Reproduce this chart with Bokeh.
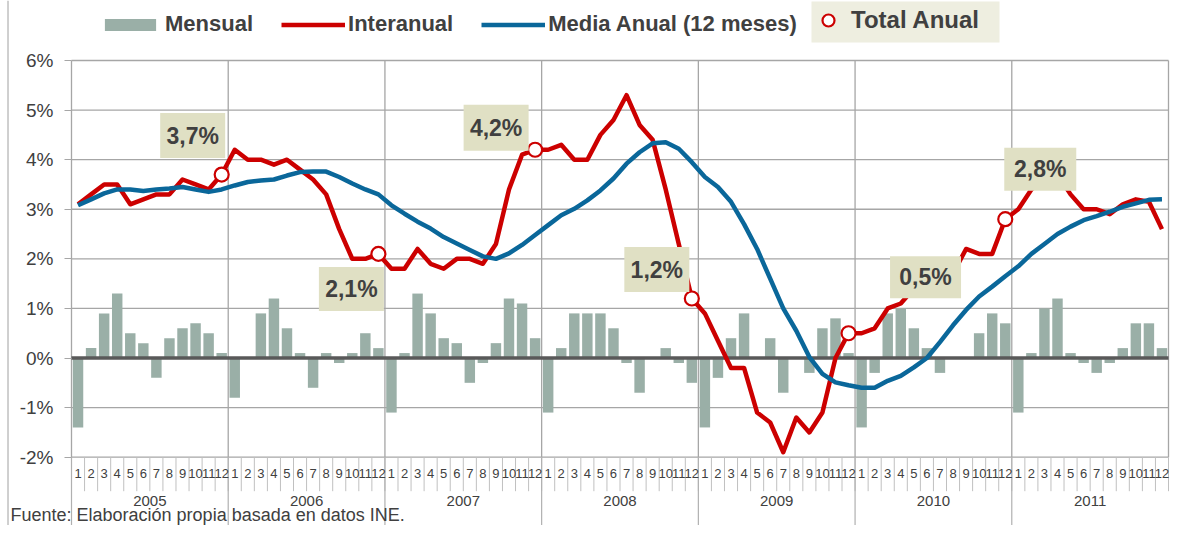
from bokeh.plotting import figure
from bokeh.models import Range1d, FixedTicker, Legend, LegendItem
from bokeh.core.properties import value
from bokeh.embed import file_html
from bokeh.resources import INLINE

# ---------------- data ----------------
YEARS = ["2005", "2006", "2007", "2008", "2009", "2010", "2011"]
MONTHS = ["1", "2", "3", "4", "5", "6", "7", "8", "9", "10", "11", "12"]
Y_TICKS = [-2, -1, 0, 1, 2, 3, 4, 5, 6]

MENSUAL = [
    -1.4, 0.2, 0.9, 1.3, 0.5, 0.3, -0.4, 0.4, 0.6, 0.7, 0.5, 0.1,    # 2005
    -0.8, 0.0, 0.9, 1.2, 0.6, 0.1, -0.6, 0.1, -0.1, 0.1, 0.5, 0.2,   # 2006
    -1.1, 0.1, 1.3, 0.9, 0.4, 0.3, -0.5, -0.1, 0.3, 1.2, 1.1, 0.4,   # 2007
    -1.1, 0.2, 0.9, 0.9, 0.9, 0.6, -0.1, -0.7, 0.0, 0.2, -0.1, -0.5, # 2008
    -1.4, -0.4, 0.4, 0.9, 0.0, 0.4, -0.7, 0.0, -0.3, 0.6, 0.8, 0.1,  # 2009
    -1.4, -0.3, 0.9, 1.0, 0.6, 0.2, -0.3, 0.0, 0.0, 0.5, 0.9, 0.7,   # 2010
    -1.1, 0.1, 1.0, 1.2, 0.1, -0.1, -0.3, -0.1, 0.2, 0.7, 0.7, 0.2,  # 2011
]
INTERANUAL = [
    3.1, 3.3, 3.5, 3.5, 3.1, 3.2, 3.3, 3.3, 3.6, 3.5, 3.4, 3.7,
    4.2, 4.0, 4.0, 3.9, 4.0, 3.8, 3.6, 3.3, 2.6, 2.0, 2.0, 2.1,
    1.8, 1.8, 2.2, 1.9, 1.8, 2.0, 2.0, 1.9, 2.3, 3.4, 4.1, 4.2,
    4.2, 4.3, 4.0, 4.0, 4.5, 4.8, 5.3, 4.7, 4.4, 3.4, 2.3, 1.2,
    0.9, 0.35, -0.2, -0.2, -1.1, -1.3, -1.9, -1.2, -1.5, -1.1, 0.0, 0.5,
    0.5, 0.6, 1.0, 1.1, 1.4, 1.5, 1.6, 1.7, 2.2, 2.1, 2.1, 2.8,
    3.0, 3.4, 3.6, 3.7, 3.3, 3.0, 3.0, 2.9, 3.1, 3.2, 3.15, 2.6,
]
MEDIA_ANUAL = [
    3.08, 3.2, 3.32, 3.4, 3.4, 3.37, 3.4, 3.42, 3.45, 3.4, 3.35, 3.4,
    3.48, 3.55, 3.58, 3.6, 3.68, 3.75, 3.76, 3.76, 3.65, 3.52, 3.4, 3.3,
    3.08, 2.91, 2.75, 2.61, 2.44, 2.31, 2.18, 2.05, 2.0, 2.11, 2.28, 2.48,
    2.68, 2.88, 3.01, 3.18, 3.38, 3.62, 3.92, 4.15, 4.33, 4.35, 4.22, 3.95,
    3.65, 3.45, 3.15, 2.7, 2.2, 1.6, 1.0, 0.55, 0.02, -0.32, -0.49, -0.55,
    -0.6, -0.6, -0.46, -0.36, -0.19, 0.0, 0.32, 0.66, 0.97, 1.24, 1.44, 1.65,
    1.85, 2.1, 2.3, 2.5, 2.65, 2.78, 2.86, 2.95, 3.05, 3.12, 3.19, 3.2,
]
TOTAL_ANUAL = [3.7, 2.1, 4.2, 1.2, 0.5, 2.8]          # December, 2005-2010

# ---------------- layout (pixels on the canvas) ----------------
W, H = 1170, 525
N = len(MENSUAL)
X0_PX, X1_PX = 71.0, 1168.0             # plot area left / right
TOP_PX, BOT_PX = 60.0, 456.7            # canvas y of 6% and -2%
PPU = (BOT_PX - TOP_PX) / (Y_TICKS[-1] - Y_TICKS[0])
PPM = (X1_PX - X0_PX) / N
Y_MAX = Y_TICKS[-1] + TOP_PX / PPU
Y_MIN = Y_TICKS[0] - (H - BOT_PX) / PPU
X_MIN = -X0_PX / PPM
X_MAX = N + (W - X1_PX) / PPM


def dy(px):
    return px / PPU


def dx(px):
    return px / PPM


def cx(px):          # canvas x -> data x
    return X_MIN + px / PPM


def cy(px):          # canvas y -> data y
    return Y_MAX - px / PPU


FONT = "Liberation Sans"
TXT = "#404040"
GRID = "#a6a6a6"
RED = "#cc0000"
BLUE = "#0a679a"
BAR = "#9aafa7"
BOX = "#e0e0c4"

p = figure(width=W, height=H, x_range=Range1d(X_MIN, X_MAX), y_range=Range1d(Y_MIN, Y_MAX),
           output_backend="svg", toolbar_location=None, tools="",
           x_axis_location=None, y_axis_location="left",
           min_border=0, outline_line_color=None,
           background_fill_color="white", border_fill_color="white")
p.grid.visible = False

ax = p.yaxis[0]
ax.fixed_location = 0
ax.ticker = FixedTicker(ticks=Y_TICKS)
ax.major_label_overrides = {t: f"{t}%" for t in Y_TICKS}
ax.axis_line_color = None
ax.major_tick_line_color = GRID
ax.major_tick_out = 7
ax.major_tick_in = 0
ax.minor_tick_line_color = None
ax.major_label_text_font = FONT
ax.major_label_text_font_size = "19px"
ax.major_label_text_color = TXT
ax.major_label_standoff = 11

xs = [i + 0.5 for i in range(N)]
y_lo, y_hi = Y_TICKS[0], Y_TICKS[-1]

# outer border of the chart
p.segment(x0=[cx(7.5)], x1=[cx(7.5)], y0=[Y_MIN], y1=[Y_MAX], line_color="#a0a0a0", line_width=1)

# horizontal gridlines
hg = [t for t in Y_TICKS if t != 0]
p.segment(x0=[0] * len(hg), x1=[N] * len(hg), y0=hg, y1=hg, line_color=GRID, line_width=1.3)
# vertical year gridlines
yb = [12 * k for k in range(len(YEARS) + 1)]
p.segment(x0=yb, x1=yb, y0=[y_lo] * len(yb), y1=[y_hi] * len(yb), line_color=GRID, line_width=1.3)
# month separators under the plot
mb = list(range(N + 1))
p.segment(x0=mb, x1=mb, y0=[y_lo] * len(mb), y1=[y_lo - dy(34)] * len(mb), line_color="#c0c0c0", line_width=1)
# year separators under the plot
yb2 = [12 * k for k in range(len(YEARS))]
p.segment(x0=yb2, x1=yb2, y0=[y_lo] * len(yb2), y1=[Y_MIN] * len(yb2), line_color="#b0b0b0", line_width=1.2)

# month and year labels
p.text(x=xs, y=[y_lo - dy(16)] * N, text=[MONTHS[i % 12] for i in range(N)],
       text_font=value(FONT), text_font_size="13px", text_color=TXT,
       text_align="center", text_baseline="middle")
p.text(x=[12 * k + 6 for k in range(len(YEARS))], y=[y_lo - dy(44)] * len(YEARS), text=YEARS,
       text_font=value(FONT), text_font_size="15px", text_color=TXT,
       text_align="center", text_baseline="middle")

# source note
p.text(x=[cx(10)], y=[cy(514)], text=["Fuente: Elaboración propia basada en datos INE."],
       text_font=value(FONT), text_font_size="18px", text_color=TXT,
       text_align="left", text_baseline="middle")

# bars
bars = p.vbar(x=xs, top=MENSUAL, bottom=0, width=0.8, fill_color=BAR, line_color=None)
# zero line
p.segment(x0=[0], x1=[N], y0=[0], y1=[0], line_color="#595959", line_width=3.5)
# lines
red = p.line(xs, INTERANUAL, line_color=RED, line_width=4.5, line_join="round")
blue = p.line(xs, MEDIA_ANUAL, line_color=BLUE, line_width=4.5, line_join="round")
# annual markers (December points)
dec_x = [12 * k + 11.5 for k in range(len(TOTAL_ANUAL))]
marks = p.scatter(x=dec_x, y=TOTAL_ANUAL, marker="circle", size=14,
                  fill_color="white", line_color=RED, line_width=2.2)

# labels of the annual totals (pixel offsets from their marker)
OFF = [(-29, -39), (-27, 35), (-39, -22), (-35, -29), (77, -56), (35, -50)]
BW = [65, 65, 65, 65, 71, 72]
BH = [45, 44, 46, 45, 42, 43]
lx = [x + dx(o[0]) for x, o in zip(dec_x, OFF)]
ly = [y - dy(o[1]) for y, o in zip(TOTAL_ANUAL, OFF)]
p.rect(x=lx, y=ly, width=BW, height=BH, width_units="screen", height_units="screen",
       fill_color=BOX, line_color=None)
p.text(x=lx, y=ly, text=[f"{v:.1f}%".replace(".", ",") for v in TOTAL_ANUAL],
       text_font=value(FONT), text_font_style="bold", text_font_size="23px", text_color=TXT,
       text_align="center", text_baseline="middle")

# legend background box for "Total Anual"
p.rect(x=[cx(905)], y=[cy(21.5)], width=[188], height=[41],
       width_units="screen", height_units="screen", fill_color="#eeeee0", line_color=None)

legend = Legend(items=[LegendItem(label="Mensual", renderers=[bars]),
                       LegendItem(label="Interanual", renderers=[red]),
                       LegendItem(label="Media Anual (12 meses)", renderers=[blue])],
                orientation="horizontal", location=(98, 488),
                glyph_width=64, glyph_height=15, label_standoff=3, spacing=28,
                padding=0, margin=0, background_fill_alpha=0, border_line_alpha=0,
                label_text_font=FONT, label_text_font_style="bold",
                label_text_font_size="22px", label_text_color=TXT)
p.add_layout(legend)
legend2 = Legend(items=[LegendItem(label="Total Anual", renderers=[marks])],
                 orientation="horizontal", location=(813, 490),
                 glyph_width=30, glyph_height=30, label_standoff=8,
                 padding=0, margin=0, background_fill_alpha=0, border_line_alpha=0,
                 label_text_font=FONT, label_text_font_style="bold",
                 label_text_font_size="24px", label_text_color=TXT)
p.add_layout(legend2)

open("out.html", "w").write(file_html(p, INLINE))
